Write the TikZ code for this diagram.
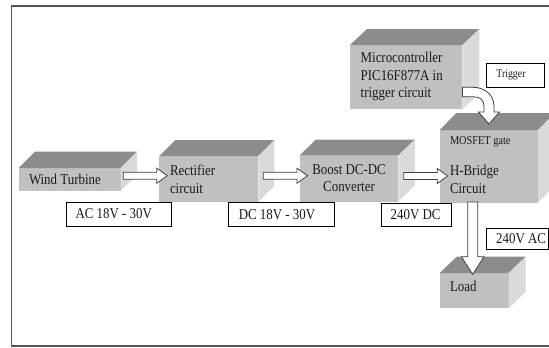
\documentclass[tikz,border=0pt]{standalone}
\usepackage{fontspec}
\setmainfont{Liberation Serif}[FakeStretch=0.86]
\usetikzlibrary{calc}
\definecolor{facefront}{HTML}{C0C0C0}
\definecolor{facetop}{HTML}{8C8C8C}
\definecolor{faceside}{HTML}{DADADA}
\definecolor{framegray}{HTML}{555555}
\tikzset{
  front/.style={fill=facefront, inner sep=0, outer sep=0, anchor=north west},
  txt/.style={inner sep=0, outer sep=0, anchor=base west, align=left, text=black!90,
    font=\fontsize{15bp}{17.4bp}\selectfont},
  txtc/.style={txt, anchor=base, align=center},
  small/.style={txt, font=\fontsize{12bp}{14bp}\selectfont},
  lbl/.style={draw=black, line width=0.8bp, fill=white, inner sep=0, outer sep=0,
    anchor=north west, text=black!90, font=\fontsize{15bp}{17.4bp}\selectfont},
  blockarr/.style={draw=black!75, fill=white, line width=0.8bp, line join=miter},
}
\newcommand\cubenode[7]{%
  \node[front, minimum width=#4bp, minimum height=#5bp] (#1) at (#2,#3) {};
  \fill[facetop] (#1.north west) -- ++(#6,-#7) -- ++(#4,0) -- (#1.north east) -- cycle;
  \fill[faceside] (#1.north east) -- ++(#6,-#7) -- ++(0,#5) -- (#1.south east) -- cycle;
}
\newcommand\harrow[2]{%
  \draw[blockarr] let \p1=(#1), \p2=(#2) in
    (\x1,\y1+3.5bp) -- (\x2-10.5bp,\y1+3.5bp) -- (\x2-10.5bp,\y1+7.5bp) -- (\x2,\y1)
    -- (\x2-10.5bp,\y1-7.5bp) -- (\x2-10.5bp,\y1-3.5bp) -- (\x1,\y1-3.5bp) -- cycle;
}
\begin{document}
\begin{tikzpicture}[x=1bp,y=-1bp]
\useasboundingbox (0,0) rectangle (549,347);
\draw[framegray, line width=1.3bp] (11.6,6) rectangle (562,346);

% 3D blocks
\cubenode{wt}{18.5}{168}{102}{23}{16.5}{16.5}
\cubenode{rect}{159.3}{156}{99}{46}{16}{16}
\cubenode{boost}{299.5}{155.5}{98.8}{46}{16.5}{16}
\cubenode{hb}{439.7}{130}{98.5}{72.5}{16.5}{17}
\cubenode{micro}{350}{45}{112.4}{64.3}{17}{16}
\cubenode{load}{439.7}{273}{69}{35.3}{17}{16.3}

% block texts (multi-line nodes: base = baseline of last line)
\node[txt] (wtt) at (29,184) {Wind Turbine};
\node[txt] (rectt) at (170,193.3) {Rectifier\\circuit};
\node[txtc] (boostt) at (349,191.5) {Boost DC-DC\\Converter};
\node[small] (hbg) at (450,144.3) {MOSFET gate};
\node[txt] (hbt) at (450,193) {H-Bridge\\Circuit};
\node[txt] (microt) at (360.7,97.5) {Microcontroller\\PIC16F877A in\\trigger circuit};
\node[txt] (loadt) at (450,291.7) {Load};

% labels
\node[lbl, minimum width=105bp, minimum height=24bp] (acl) at (66,202)
  {\makebox[86bp][l]{AC 18V - 30V}};
\node[lbl, minimum width=105.6bp, minimum height=24bp] (dcl) at (228.8,202.5)
  {\makebox[85.6bp][l]{DC 18V - 30V}};
\node[lbl, minimum width=70bp, minimum height=23.5bp] (dc240) at (381,203)
  {\makebox[50.6bp][l]{240V DC}};
\node[lbl, minimum width=61.6bp, minimum height=21bp] (ac240) at (486.7,228.3)
  {\makebox[42.6bp][l]{240V AC}};
\node[lbl, minimum width=58.2bp, minimum height=24bp, font=\fontsize{11.5bp}{13bp}\selectfont]
  (trig) at (486.3,63) {\makebox[38.2bp][l]{Trigger}};

% connectors
\coordinate (a1) at ($(wt.north east)+(2.8,7.7)$);
\coordinate (a2) at ($(rect.north west)+(8,19.7)$);
\coordinate (b1) at ($(rect.north east)+(5,19.7)$);
\coordinate (b2) at ($(boost.north west)+(8,20.2)$);
\coordinate (c1) at ($(boost.north east)+(5.4,20.5)$);
\coordinate (c2) at ($(hb.north west)+(8,46)$);
\harrow{a1}{a2}
\harrow{b1}{b2}
\harrow{c1}{c2}

\coordinate (ts) at ($(micro.north east)+(0,47)$);
\coordinate (tt) at ($(hb.north)+(0,-6)$);
\draw[blockarr] let \p1=(ts), \p2=(tt) in
  (\x1,\y1+4.7bp) -- (\x2-16bp,\y1+4.7bp)
  .. controls (\x2-4bp,\y1+4.7bp) and (\x2+5bp,\y1-3bp) .. (\x2+5bp,\y1-14bp)
  -- (\x2+5bp,\y2+12bp) -- (\x2+10.5bp,\y2+12bp) -- (\x2,\y2) -- (\x2-10.5bp,\y2+12bp)
  -- (\x2-5bp,\y2+12bp) -- (\x2-5bp,\y1-14bp)
  .. controls (\x2-5bp,\y1-8bp) and (\x2-9bp,\y1-4.7bp) .. (\x2-16bp,\y1-4.7bp)
  -- (\x1,\y1-4.7bp) -- cycle;

\coordinate (va) at ($(hb.south west)+(33,-0.5)$);
\coordinate (vb) at ($(load.north west)+(33,1.3)$);
\draw[blockarr] let \p1=(va), \p2=(vb) in
  (\x1-5bp,\y1) -- (\x1-5bp,\y2+17.6bp) -- (\x1-11.3bp,\y2+17.6bp) -- (\x1,\y2)
  -- (\x1+11.3bp,\y2+17.6bp) -- (\x1+5bp,\y2+17.6bp) -- (\x1+5bp,\y1) -- cycle;
\end{tikzpicture}
\end{document}
